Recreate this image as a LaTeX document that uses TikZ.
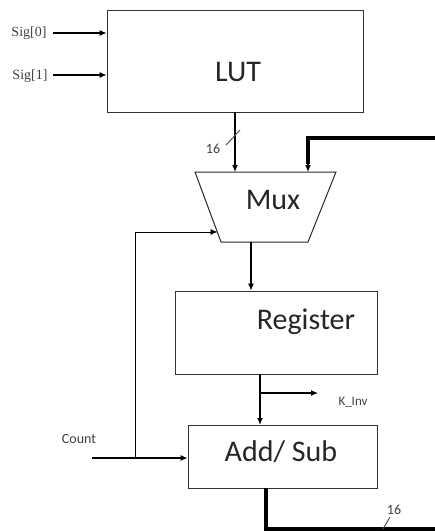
\documentclass[tikz,border=0pt]{standalone}
\usepackage{fontspec}
\setmainfont{Carlito}
\newfontfamily\sigfont{Liberation Serif}
\usetikzlibrary{arrows.meta,calc}
\begin{document}
\begin{tikzpicture}[x=1pt,y=-1pt,
  blk/.style={draw=black!80,line width=0.9pt,rectangle,inner sep=0pt},
  big/.style={font=\fontsize{30}{32}\selectfont,text=black!85},
  lbl/.style={font=\fontsize{14}{15}\selectfont,text=black!75},
  wire/.style={line width=1.1pt,-{Latex[length=7pt,width=6pt]}},
  thin/.style={line width=0.9pt},
  bus/.style={line width=3.2pt}]
\useasboundingbox (0,0) rectangle (435,531);
% blocks
\node[blk,minimum width=256pt,minimum height=102pt] (lut) at (235,61) {};
\node[big] (luttxt) at (238,72) {LUT};
\node[blk,minimum width=202pt,minimum height=83pt] (reg) at (276,332.5) {};
\node[big] (regtxt) at (306,322) {Register};
\node[blk,minimum width=189pt,minimum height=63pt] (add) at (282.5,456.5) {};
\node[big] (addtxt) at (281,452) {Add/ Sub};
% mux trapezoid
\coordinate (mTL) at (195,172);
\coordinate (mTR) at (336,172);
\coordinate (mBR) at (308,242);
\coordinate (mBL) at (221,242);
\draw[black!85,line width=1pt] (mTL) -- (mTR) -- (mBR) -- (mBL) -- cycle;
\node[big] (mux) at (273,200) {Mux};
% input labels
\node[lbl,font=\sigfont\fontsize{14}{15}\selectfont] (sig0) at (29,33) {Sig[0]};
\node[lbl,font=\sigfont\fontsize{14}{15}\selectfont] (sig1) at (30,76) {Sig[1]};
\coordinate (s0) at (53,33);
\coordinate (s1) at (53,75);
\draw[wire] (s0) -- (s0 -| lut.west);
\draw[wire] (s1) -- (s1 -| lut.west);
% LUT -> Mux
\coordinate (lm) at (235,172);
\draw[wire] (lut.south) -- (lm);
\draw[thin,black!70] (226,145) -- (240,130);
\node[lbl] (n16a) at (213,149) {16};
% feedback bus
\coordinate (fbR) at (435,138);
\coordinate (fbM) at (308,172);
\draw[bus] (fbR) -| ($(fbM)+(0,-8)$);
\draw[wire] ($(fbM)+(0,-9)$) -- (fbM);
% Mux -> Register
\coordinate (mo) at (251,242);
\draw[wire] (mo) -- (mo |- reg.north);
% Register -> Adder
\coordinate (ro) at (260,374);
\coordinate (ri) at (260,425);
\coordinate (kb) at (260,393);
\coordinate (kk) at (318,393);
\draw[line width=2pt,-{Latex[length=7pt,width=6pt]}] (ro) -- (ri);
\draw[wire] (kb) -- (kk);
\node[lbl,font=\fontsize{13}{14}\selectfont] (kinv) at (353,402) {K\_Inv};
% Count
\node[lbl] (count) at (79,439) {Count};
\coordinate (c0) at (92,458);
\coordinate (cj) at (135,458);
\coordinate (cm) at (217.5,232);
\draw[wire] (c0) -- (c0 -| add.west);
\draw[thin,-{Latex[length=7pt,width=6pt]}] (cj) -- (135,232) -- (cm);
% adder output bus
\coordinate (ao) at (266,488);
\coordinate (aR) at (435,529);
\draw[bus] (ao) |- (aR);
\draw[thin,black!70] (383,529) -- (390,517);
\node[lbl] (n16b) at (394,510) {16};
\end{tikzpicture}
\end{document}
